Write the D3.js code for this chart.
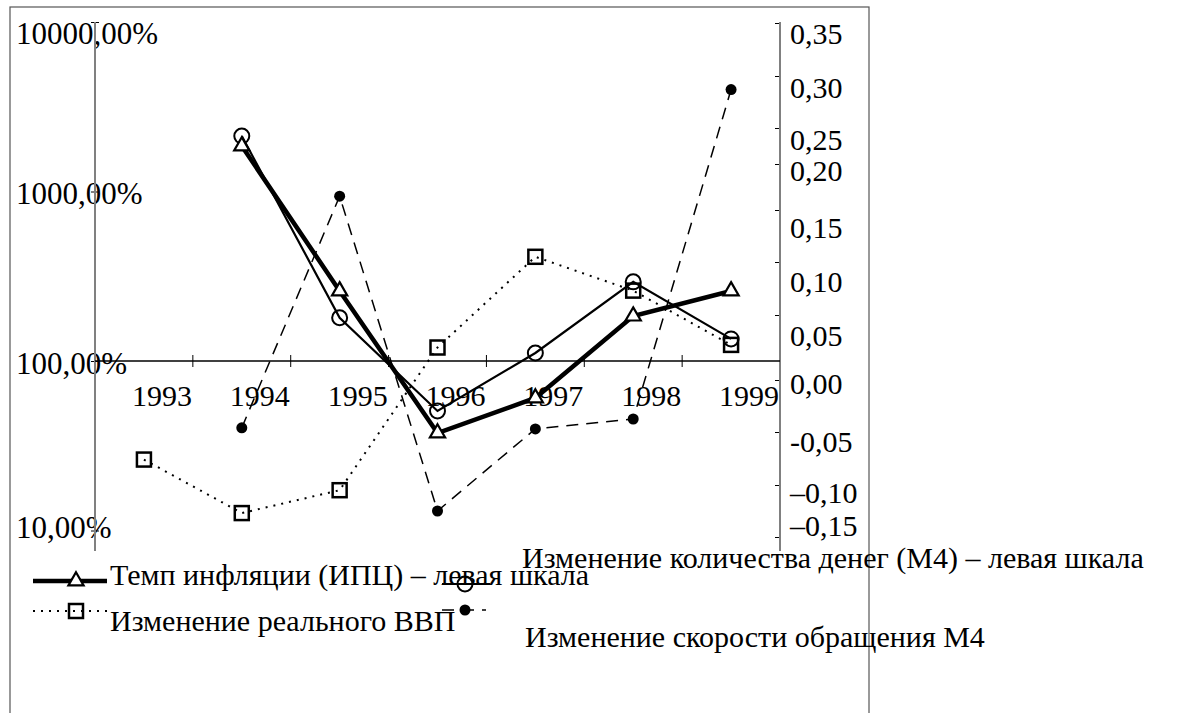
<!DOCTYPE html>
<html>
<head>
<meta charset="utf-8">
<script src="https://cdnjs.cloudflare.com/ajax/libs/d3/7.8.5/d3.min.js"></script>
<style>
	body { margin: 0; background: #fff; }
</style>
</head>
<body>
<div id="chart"></div>
<script>
// Data
var years = ["1993", "1994", "1995", "1996", "1997", "1998", "1999"];
var inflation = [null, 1855, 259, 37.6, 60.5, 184, 259];      // % , left log scale
var moneyM4 = [null, 2123, 180, 50.7, 111.5, 293, 135];       // % , left log scale
var realGdp = [-0.076, -0.127, -0.105, 0.025, 0.105, 0.073, 0.027];
var velocityM4 = [null, -0.046, 0.165, -0.125, -0.047, -0.0375, 0.287];

var leftTicks = [10, 100, 1000, 10000];
var leftTickLabels = ["10,00%", "100,00%", "1000,00%", "10000,00%"];
var rightTicks = [-0.15, -0.10, -0.05, 0, 0.05, 0.10, 0.15, 0.20, 0.25, 0.30, 0.35];
var rightTickLabels = ["–0,15", "–0,10", "-0,05", "0,00", "0,05", "0,10", "0,15", "0,20", "0,25", "0,30", "0,35"];

var legendNames = [
	"Темп инфляции (ИПЦ) – левая шкала",
	"Изменение количества денег (М4) – левая шкала",
	"Изменение реального ВВП",
	"Изменение скорости обращения М4"
];

var FONT = "'Liberation Serif', 'DejaVu Serif', serif";

var svg_width = 1201, svg_height = 713;
var plotLeft = 95, plotRight = 780, plotTop = 22, plotBottom = 551;

// the right axis in the original is unevenly spaced, so a piecewise scale
var rightTickY = [537, 485, 432, 380, 315, 262, 210, 164, 128, 76, 23];
// and its labels do not sit on the ticks either
var rightLabelY = [525, 492, 441, 383, 335, 281, 227, 170, 139, 87, 33];
var leftLabelY = [527, 363, 193, 33];

var svg = d3.select("#chart").append("svg")
	.attr("width", svg_width)
	.attr("height", svg_height)
	.attr("font-family", FONT)
	.attr("font-size", 30);

// outer frame
svg.append("rect")
	.attr("x", 10).attr("y", 7)
	.attr("width", 859).attr("height", 800)
	.style("fill", "none")
	.style("stroke", "#555")
	.style("stroke-width", 1.2);

// Scales
var xScale = d3.scaleBand().domain(years).range([plotLeft, plotRight]).padding(0);
var xMid = function(i) { return xScale(years[i]) + xScale.bandwidth() / 2; };
var yLeft = d3.scaleLog().domain([10, 10000]).range([530.5, plotTop]);
var yRight = d3.scaleLinear().domain(rightTicks).range(rightTickY);

// Left axis
var leftAxis = d3.axisLeft(yLeft)
	.tickValues(leftTicks)
	.tickSizeInner(4).tickSizeOuter(0)
	.tickFormat(function(d, i) { return leftTickLabels[i]; });
var gl = svg.append("g")
	.attr("transform", "translate(" + plotLeft + ",0)")
	.call(leftAxis)
	.attr("font-family", FONT).attr("font-size", 31);
gl.select(".domain").remove();
gl.selectAll(".tick line").attr("x2", 4).attr("x1", -4).style("stroke", "#000");
gl.selectAll(".tick text")
	.attr("x", 16 - plotLeft)
	.attr("y", function(d, i) { return leftLabelY[i] - yLeft(d); })
	.attr("dy", "0.35em")
	.style("text-anchor", "start");
gl.append("line")
	.attr("y1", plotTop).attr("y2", plotBottom)
	.style("stroke", "#808080").style("stroke-width", 2);

// Right axis
var rightAxis = d3.axisRight(yRight)
	.tickValues(rightTicks)
	.tickSizeInner(-5).tickSizeOuter(0)
	.tickFormat(function(d, i) { return rightTickLabels[i]; });
var gr = svg.append("g")
	.attr("transform", "translate(" + plotRight + ",0)")
	.call(rightAxis)
	.attr("font-family", FONT).attr("font-size", 30);
gr.select(".domain").remove();
gr.selectAll(".tick line").style("stroke", "#000");
gr.selectAll(".tick text")
	.attr("x", 10)
	.attr("y", function(d, i) { return rightLabelY[i] - yRight(d); })
	.attr("dy", "0.35em");
gr.append("line")
	.attr("y1", plotTop).attr("y2", plotBottom)
	.style("stroke", "#808080").style("stroke-width", 2);

// X axis, crossing at 100 %
var xAxisY = yLeft(100);
var xAxis = d3.axisBottom(xScale).tickSize(0).tickPadding(0);
var gx = svg.append("g")
	.attr("transform", "translate(0," + xAxisY + ")")
	.call(xAxis)
	.attr("font-family", FONT).attr("font-size", 30);
gx.select(".domain").remove();
gx.selectAll(".tick text")
	.attr("dx", 18).attr("y", 34).attr("dy", "0.35em");
gx.append("line")
	.attr("x1", plotLeft).attr("x2", plotRight)
	.style("stroke", "#000").style("stroke-width", 1.5);
gx.selectAll(".xsep")
	.data(years.slice(1))
	.enter()
	.append("line")
	.attr("class", "xsep")
	.attr("x1", function(d) { return xScale(d); })
	.attr("x2", function(d) { return xScale(d); })
	.attr("y1", -6).attr("y2", 6)
	.style("stroke", "#000");

// Series
function points(values, yScale) {
	var pts = [];
	for (var i = 0; i < values.length; i++) {
		if (values[i] != null) pts.push({ x: xMid(i), y: yScale(values[i]) });
	}
	return pts;
}
var line = d3.line().x(function(d) { return d.x; }).y(function(d) { return d.y; });

var series = [
	{ pts: points(realGdp, yRight), width: 2, dash: "2,6", marker: "square" },
	{ pts: points(velocityM4, yRight), width: 1.5, dash: "12,8", marker: "dot" },
	{ pts: points(moneyM4, yLeft), width: 2.2, dash: null, marker: "circle" },
	{ pts: points(inflation, yLeft), width: 4.5, dash: null, marker: "triangle" }
];

series.forEach(function(s) {
	svg.append("path")
		.attr("d", line(s.pts))
		.style("fill", "none")
		.style("stroke", "#000")
		.style("stroke-width", s.width)
		.style("stroke-dasharray", s.dash);
});

function drawMarker(g, type, x, y) {
	if (type == "square") {
		g.append("rect").attr("x", x - 7).attr("y", y - 7).attr("width", 14).attr("height", 14)
			.style("fill", "none").style("stroke", "#000").style("stroke-width", 2.5);
	}
	else if (type == "dot") {
		g.append("circle").attr("cx", x).attr("cy", y).attr("r", 5.5).style("fill", "#000");
	}
	else if (type == "circle") {
		g.append("circle").attr("cx", x).attr("cy", y).attr("r", 7.5)
			.style("fill", "none").style("stroke", "#000").style("stroke-width", 2);
	}
	else {
		g.append("path")
			.attr("d", d3.symbol().type(d3.symbolTriangle).size(100)())
			.attr("transform", "translate(" + x + "," + y + ")")
			.style("fill", "#fff").style("stroke", "#000").style("stroke-width", 2.2);
	}
}

series.forEach(function(s) {
	var g = svg.append("g");
	s.pts.forEach(function(p) { drawMarker(g, s.marker, p.x, p.y); });
});

// Legend
var legend = [
	{ i: 0, x1: 33, x2: 107, y: 581, mx: 76, tx: 110, ty: 574, width: 4.5, dash: null, marker: "triangle" },
	{ i: 1, x1: 442, x2: 490, y: 584, mx: 465, tx: 522, ty: 557, width: 2.2, dash: null, marker: "circle" },
	{ i: 2, x1: 33, x2: 108, y: 611, mx: 76, tx: 110, ty: 620, width: 2, dash: "2,6", marker: "square" },
	{ i: 3, x1: 442, x2: 486, y: 610, mx: 465, tx: 525, ty: 636, width: 1.5, dash: "12,8", marker: "dot" }
];
var lg = svg.append("g").attr("font-size", 30);
legend.forEach(function(l) {
	lg.append("line")
		.attr("x1", l.x1).attr("x2", l.x2).attr("y1", l.y).attr("y2", l.y)
		.style("stroke", "#000").style("stroke-width", l.width)
		.style("stroke-dasharray", l.dash);
	drawMarker(lg, l.marker, l.mx, l.y);
	lg.append("text")
		.attr("x", l.tx).attr("y", l.ty).attr("dy", "0.35em")
		.text(legendNames[l.i]);
});
</script>
</body>
</html>
